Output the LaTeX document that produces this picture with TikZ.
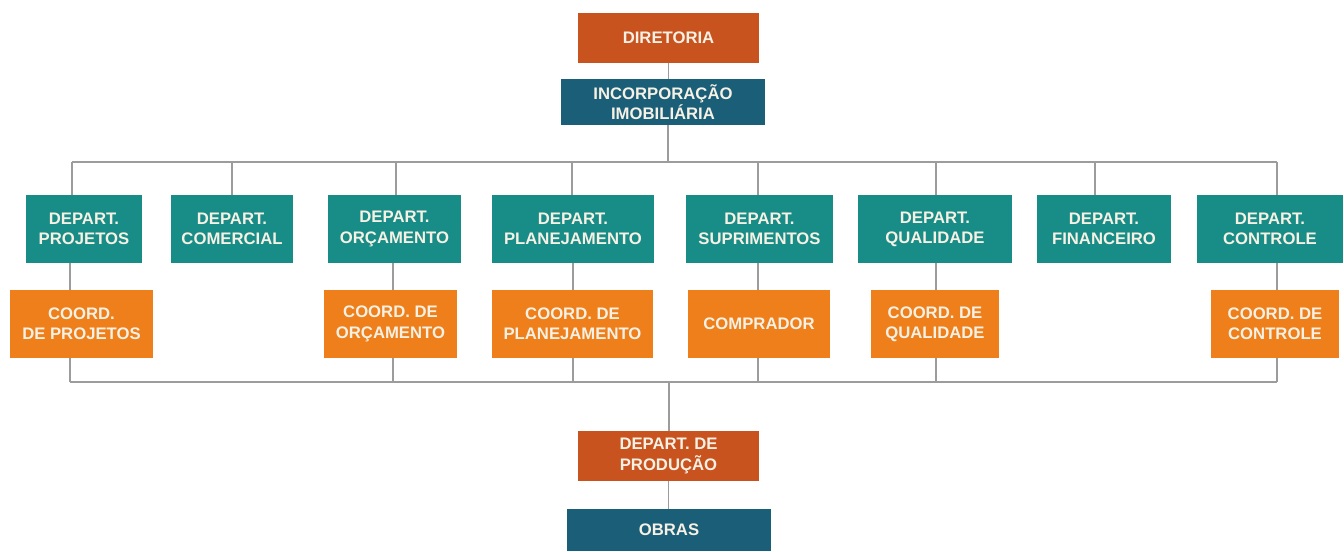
\documentclass[tikz,border=0pt]{standalone}
\usepackage{fontspec}
\setmainfont{Liberation Sans}
\definecolor{tijolo}{HTML}{C8531F}
\definecolor{petroleo}{HTML}{1B5E78}
\definecolor{verdeagua}{HTML}{188C87}
\definecolor{laranja}{HTML}{EE7F1A}
\definecolor{linha}{HTML}{9C9C9C}
\definecolor{texto}{HTML}{F6F1E4}
\tikzset{
  box/.style={inner sep=0pt, align=center, text=texto,
    font=\bfseries\fontsize{9.5}{11.5}\selectfont},
  topo/.style={box, fill=tijolo, minimum width=3.62cm, minimum height=1cm},
  dept/.style={box, fill=verdeagua, minimum height=1.36cm},
  coord/.style={box, fill=laranja, minimum height=1.36cm},
  link/.style={draw=linha, line width=1.1pt}
}
\begin{document}
\begin{tikzpicture}[x=0.02cm, y=-0.02cm]
    \useasboundingbox (0,0) rectangle (1344,551);

    % Top of the chart
    \node[topo] (diretoria) at (668.5,38) {DIRETORIA};
    \node[box, fill=petroleo, minimum width=4.08cm, minimum height=0.92cm] (incorp) at (663,102) {INCORPORAÇÃO\\IMOBILIÁRIA};

    % Departments
    \node[dept, minimum width=2.32cm] (projetos) at (84,229) {DEPART.\\PROJETOS};
    \node[dept, minimum width=2.44cm] (comercial) at (232,229) {DEPART.\\COMERCIAL};
    \node[dept, minimum width=2.66cm] (orcamento) at (394.5,229) {DEPART.\\ORÇAMENTO};
    \node[dept, minimum width=3.24cm] (planej) at (573,229) {DEPART.\\PLANEJAMENTO};
    \node[dept, minimum width=2.94cm] (suprim) at (759.5,229) {DEPART.\\SUPRIMENTOS};
    \node[dept, minimum width=3.08cm] (qualid) at (935,229) {DEPART.\\QUALIDADE};
    \node[dept, minimum width=2.68cm] (financ) at (1104,229) {DEPART.\\FINANCEIRO};
    \node[dept, minimum width=2.92cm] (controle) at (1270,229) {DEPART.\\CONTROLE};

    % Coordinations
    \node[coord, minimum width=2.86cm] (cprojetos) at (81.5,324) {COORD.\\DE PROJETOS};
    \node[coord, minimum width=2.66cm] (corcamento) at (390.5,324) {COORD. DE\\ORÇAMENTO};
    \node[coord, minimum width=3.22cm] (cplanej) at (572.5,324) {COORD. DE\\PLANEJAMENTO};
    \node[coord, minimum width=2.84cm] (comprador) at (759,324) {COMPRADOR};
    \node[coord, minimum width=2.56cm] (cqualid) at (935,324) {COORD. DE\\QUALIDADE};
    \node[coord, minimum width=2.56cm] (ccontrole) at (1275,324) {COORD. DE\\CONTROLE};

    % Bottom of the chart
    \node[topo] (producao) at (668.5,456) {DEPART. DE\\PRODUÇÃO};
    \node[box, fill=petroleo, minimum width=4.08cm, minimum height=0.84cm] (obras) at (669,530) {OBRAS};

    % Upper bus
    \coordinate (topmid) at (668,162);
    \coordinate (topL) at (72,162);
    \coordinate (topR) at (1277,162);
    \draw[link] (diretoria) -- (diretoria |- incorp.north);
    \draw[link] (incorp.south -| topmid) -- (topmid);
    \draw[link] (topL) -- (topR);
    \foreach \n/\x in {projetos/72, comercial/232, orcamento/396, planej/572,
                       suprim/758, qualid/936, financ/1095, controle/1277}{
        \coordinate (t\n) at (\x,162);
        \draw[link] (t\n) -- (t\n |- \n.north);
    }

    % Lower bus
    \coordinate (botmid) at (669,382);
    \coordinate (botL) at (70,382);
    \coordinate (botR) at (1277,382);
    \draw[link] (botL) -- (botR);
    \foreach \n/\c/\x in {projetos/cprojetos/70, orcamento/corcamento/393,
                          planej/cplanej/573, suprim/comprador/758,
                          qualid/cqualid/936, controle/ccontrole/1277}{
        \coordinate (b\c) at (\x,382);
        \draw[link] (b\c |- \n.south) -- (b\c |- \c.north);
        \draw[link] (b\c |- \c.south) -- (b\c);
    }
    \draw[link] (botmid) -- (botmid |- producao.north);
    \draw[link] (producao) -- (producao |- obras.north);
\end{tikzpicture}
\end{document}
